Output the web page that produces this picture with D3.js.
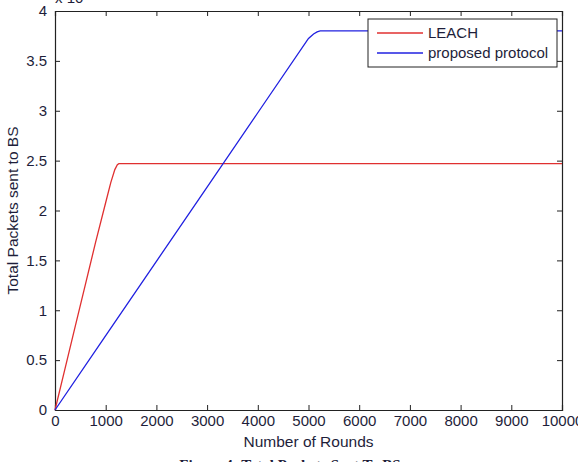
<!DOCTYPE html>
<html>
<head>
<meta charset="utf-8">
<script src="https://cdn.jsdelivr.net/npm/d3@7"></script>
<style>
  body { margin: 0; background: #fff; }
  .chart { width: 578px; height: 462px; }
  text { font-family: "Liberation Sans", Arial, sans-serif; fill: #1e1e3a; }
</style>
</head>
<body>
<div class="chart"></div>
<script>
// values (y values in units of 10^4)
let leachRounds = [0, 200, 400, 600, 800, 1000, 1100, 1180, 1230, 1260, 10000];
let leachPackets = [0, 0.42, 0.84, 1.26, 1.68, 2.08, 2.28, 2.41, 2.46, 2.47, 2.47];
let propRounds = [0, 1000, 2000, 3000, 4000, 5000, 5100, 5170, 5230, 10000];
let propPackets = [0, 0.745, 1.49, 2.235, 2.98, 3.725, 3.77, 3.79, 3.8, 3.8];
let xTicks = [0, 1000, 2000, 3000, 4000, 5000, 6000, 7000, 8000, 9000, 10000];
let yTicks = [0, 0.5, 1, 1.5, 2, 2.5, 3, 3.5, 4];
let seriesNames = ["LEACH", "proposed protocol"];
let seriesColors = ["#e03030", "#2020e0"];

let margin = { top: 11, right: 16, bottom: 52, left: 55 };
let width = 578 - margin.left - margin.right;
let height = 462 - margin.top - margin.bottom;

let svg = d3.select(".chart").append("svg")
    .attr("width", 578)
    .attr("height", 462);

let plot = svg.append("g")
    .attr("transform", `translate(${margin.left},${margin.top})`);

let xScale = d3.scaleLinear().domain([0, 10000]).range([0, width]);
let yScale = d3.scaleLinear().domain([0, 4]).range([height, 0]);

plot.append("rect")
    .attr("width", width)
    .attr("height", height)
    .attr("fill", "#fff");

// axes with inward ticks, MATLAB style
let xAxis = plot.append("g")
    .attr("transform", `translate(0,${height})`)
    .call(d3.axisBottom(xScale).tickValues(xTicks).tickSize(-5).tickPadding(9).tickFormat(d3.format("d")));
let xTop = plot.append("g")
    .call(d3.axisTop(xScale).tickValues(xTicks).tickSize(-5).tickFormat(""));
let yAxis = plot.append("g")
    .call(d3.axisLeft(yScale).tickValues(yTicks).tickSize(-5).tickPadding(8).tickFormat(d => d));
let yRight = plot.append("g")
    .attr("transform", `translate(${width},0)`)
    .call(d3.axisRight(yScale).tickValues(yTicks).tickSize(-5).tickFormat(""));

[xAxis, xTop, yAxis, yRight].forEach(a => {
    a.selectAll("path").attr("stroke", "#222").attr("stroke-width", 1.2);
    a.selectAll("line").attr("stroke", "#222");
    a.selectAll("text").style("font-size", "15px").attr("fill", "#1e1e3a");
});
xAxis.selectAll(".tick text").attr("dy", "0.45em");

let line = d3.line()
    .x(d => xScale(d[0]))
    .y(d => yScale(d[1]));

let series = [
    d3.zip(leachRounds, leachPackets),
    d3.zip(propRounds, propPackets)
];

plot.selectAll(".series")
    .data(series)
    .enter()
    .append("path")
    .attr("class", "series")
    .attr("d", d => line(d))
    .attr("fill", "none")
    .attr("stroke", (d, i) => seriesColors[i])
    .attr("stroke-width", 1.3);

// legend
let legend = plot.append("g").attr("transform", `translate(${width - 194},8)`);
legend.append("rect")
    .attr("width", 189)
    .attr("height", 48)
    .attr("fill", "#fff")
    .attr("stroke", "#222");
seriesNames.forEach((name, i) => {
    legend.append("line")
        .attr("x1", 9).attr("x2", 55)
        .attr("y1", 14 + i * 20).attr("y2", 14 + i * 20)
        .attr("stroke", seriesColors[i])
        .attr("stroke-width", 1.3);
    legend.append("text")
        .attr("x", 60)
        .attr("y", 14 + i * 20)
        .attr("dy", "0.35em")
        .style("font-size", "15px")
        .text(name);
});

// exponent label, partly cut off at the top
let expo = svg.append("text")
    .attr("x", 55)
    .attr("y", 3)
    .style("font-size", "15px");
expo.append("tspan").text("x 10");
expo.append("tspan").attr("dy", -6).style("font-size", "10px").text("4");

svg.append("text")
    .attr("x", margin.left + width / 2)
    .attr("y", 447)
    .attr("text-anchor", "middle")
    .style("font-size", "15.5px")
    .text("Number of Rounds");

svg.append("text")
    .attr("transform", `translate(18,${margin.top + height / 2}) rotate(-90)`)
    .attr("text-anchor", "middle")
    .style("font-size", "15.5px")
    .text("Total Packets sent to BS");

// figure caption, cut off by the bottom edge
svg.append("text")
    .attr("x", 290)
    .attr("y", 470)
    .attr("text-anchor", "middle")
    .style("font-family", "'Liberation Serif', serif")
    .style("font-weight", "bold")
    .style("font-size", "15px")
    .attr("fill", "#000")
    .text("Figure 4: Total Packets Sent To BS");
</script>
</body>
</html>
